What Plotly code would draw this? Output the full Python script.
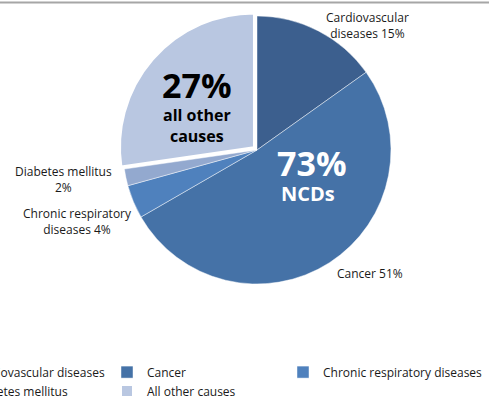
import plotly.graph_objects as go

# Data
causes = ["Cardiovascular diseases", "Cancer", "Chronic respiratory diseases",
          "Diabetes mellitus", "All other causes"]
shares = [15, 51, 4, 2, 27]
slice_labels = ["Cardiovascular<br>diseases 15%", "Cancer 51%",
                "Chronic respiratory<br>diseases 4%", "Diabetes mellitus<br>2%", ""]
ncd_total = "73%"
other_total = "27%"

colors = ["#3C5F8E", "#4572A7", "#4F81BD", "#93A9CF", "#B9C7E1"]

# the figure is wider than the window; its left part is cut off, as in the picture
W, H = 560, 401
SHIFT = 69


def px(x, y):
    # screen pixel -> paper coords
    return (x + SHIFT) / W, 1 - y / H


fig = go.Figure()

fig.add_trace(go.Pie(
    labels=causes,
    values=shares,
    sort=False,
    direction="clockwise",
    rotation=0,
    pull=[0, 0, 0, 0, 0.03],
    marker=dict(colors=colors,
                line=dict(color=["rgba(255,255,255,0.45)"] * 4 + ["white"],
                          width=[1, 1, 1, 1, 2])),
    textinfo="none",
    hoverinfo="label+percent",
    domain=dict(x=[(257 + SHIFT - 138) / W, (257 + SHIFT + 138) / W],
                y=[0.2818, 0.9701]),
))

# slice labels outside the pie
label_pos = [(367, 25), (370, 273), (77, 221), (63, 179)]
for text, (x, y) in zip(slice_labels, label_pos):
    ax, ay = px(x, y)
    fig.add_annotation(text=text, x=ax, y=ay, xref="paper", yref="paper",
                       xanchor="center", yanchor="middle",
                       showarrow=False, font=dict(size=12, color="#1a1a1a"))


def big_text(text, x, y, size, color):
    ax, ay = px(x, y)
    fig.add_annotation(text="<b>" + text + "</b>", x=ax, y=ay, xref="paper", yref="paper",
                       xanchor="center", yanchor="middle", showarrow=False,
                       font=dict(size=size, color=color))


# big totals on the pie
big_text(ncd_total, 312, 163, 34, "white")
big_text("NCDs", 308, 193, 20, "white")
big_text(other_total, 197, 85, 34, "black")
big_text("all other<br>causes", 197, 126, 16, "black")

# grey rule along the top
fig.add_shape(type="line", xref="paper", yref="paper", x0=0, x1=1,
              y0=1 - 2.5 / H, y1=1 - 2.5 / H, line=dict(color="#A6A6A6", width=2))

fig.update_layout(
    width=W, height=H, autosize=False,
    font=dict(family="Open Sans", size=12, color="#1a1a1a"),
    paper_bgcolor="white",
    margin=dict(l=0, r=0, t=0, b=0, autoexpand=False),
    showlegend=True,
    legend=dict(orientation="h", x=0, xanchor="left", y=1 - 342 / H, yanchor="top",
                entrywidth=131, entrywidthmode="pixels", traceorder="normal",
                font=dict(size=12),
                # blank title, only there so the last column is not clipped
                title=dict(text="&nbsp;" * 200, side="top", font=dict(size=12))),
)

# drop the page margin and slide the figure left so the legend is cut like the picture
shift_js = (
    "document.body.style.margin='0';"
    "document.body.style.overflow='hidden';"
    "document.getElementById('{plot_id}').style.marginLeft='-%dpx';" % SHIFT
)

fig.write_html("out.html", post_script=shift_js, config={"displayModeBar": False})
